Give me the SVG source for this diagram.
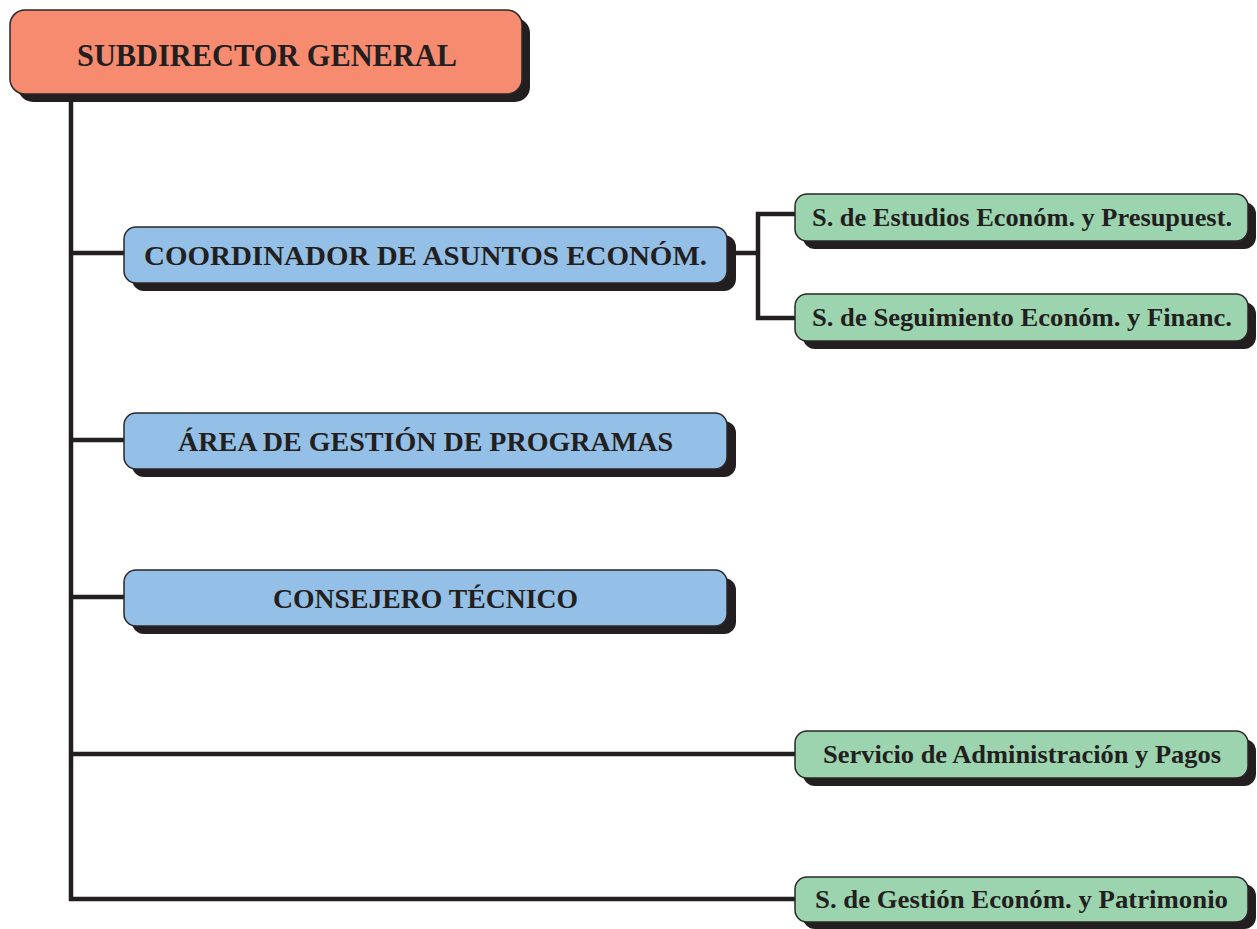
<svg xmlns="http://www.w3.org/2000/svg" width="1257" height="929" viewBox="0 0 1257 929">
<style>
.shadow{fill:#231f20}
.box{stroke:#2b2728;stroke-width:1.5}
.top{fill:#f68b6f}
.blue{fill:#94bfe6}
.green{fill:#9bd4ae}
.lbl{font-family:"Liberation Serif","Times New Roman",serif;font-weight:bold;fill:#231f20;text-anchor:middle}
.conn{stroke:#231f20;stroke-width:4.5;fill:none;stroke-linecap:butt;stroke-linejoin:miter}
</style>
<rect width="1257" height="929" fill="#ffffff"/>
<g id="connectors">
<path class="conn" d="M71,94 V899 H795"/>
<path class="conn" d="M71,253 H124"/>
<path class="conn" d="M71,440 H124"/>
<path class="conn" d="M71,597 H124"/>
<path class="conn" d="M71,754 H795"/>
<path class="conn" d="M727,253 H758"/>
<path class="conn" d="M795,214 H758 V318 H795"/>
</g>
<g id="subdirector">
<rect class="shadow" x="18" y="18" width="512" height="84" rx="15"/>
<rect class="box top" x="10" y="10" width="512" height="84" rx="15"/>
<text class="lbl" x="267" y="66" font-size="31" textLength="380" lengthAdjust="spacingAndGlyphs">SUBDIRECTOR GENERAL</text>
</g>
<g id="coordinador">
<rect class="shadow" x="132" y="235" width="604" height="56" rx="12"/>
<rect class="box blue" x="124" y="227" width="603" height="56" rx="12"/>
<text class="lbl" x="425.5" y="265" font-size="27" textLength="563" lengthAdjust="spacingAndGlyphs">COORDINADOR DE ASUNTOS ECONÓM.</text>
</g>
<g id="area-gestion">
<rect class="shadow" x="132" y="421" width="604" height="56" rx="12"/>
<rect class="box blue" x="124" y="413" width="603" height="56" rx="12"/>
<text class="lbl" x="425.5" y="451" font-size="27" textLength="495" lengthAdjust="spacingAndGlyphs">ÁREA DE GESTIÓN DE PROGRAMAS</text>
</g>
<g id="consejero">
<rect class="shadow" x="132" y="578" width="604" height="56" rx="12"/>
<rect class="box blue" x="124" y="570" width="603" height="56" rx="12"/>
<text class="lbl" x="425.5" y="608" font-size="27" textLength="305" lengthAdjust="spacingAndGlyphs">CONSEJERO TÉCNICO</text>
</g>
<g id="estudios">
<rect class="shadow" x="803" y="202" width="453" height="47" rx="12"/>
<rect class="box green" x="795" y="194" width="453" height="47" rx="12"/>
<text class="lbl" x="1022" y="226" font-size="25" textLength="420" lengthAdjust="spacingAndGlyphs">S. de Estudios Económ. y Presupuest.</text>
</g>
<g id="seguimiento">
<rect class="shadow" x="803" y="302" width="453" height="47" rx="12"/>
<rect class="box green" x="795" y="294" width="453" height="47" rx="12"/>
<text class="lbl" x="1022" y="326" font-size="25" textLength="420" lengthAdjust="spacingAndGlyphs">S. de Seguimiento Económ. y Financ.</text>
</g>
<g id="servicio">
<rect class="shadow" x="803" y="739" width="453" height="47" rx="12"/>
<rect class="box green" x="795" y="731" width="453" height="47" rx="12"/>
<text class="lbl" x="1022" y="763" font-size="25" textLength="398" lengthAdjust="spacingAndGlyphs">Servicio de Administración y Pagos</text>
</g>
<g id="gestion-patrimonio">
<rect class="shadow" x="803" y="884" width="453" height="45" rx="12"/>
<rect class="box green" x="795" y="877" width="453" height="45" rx="12"/>
<text class="lbl" x="1021.5" y="908" font-size="25" textLength="413" lengthAdjust="spacingAndGlyphs">S. de Gestión Económ. y Patrimonio</text>
</g>
</svg>
